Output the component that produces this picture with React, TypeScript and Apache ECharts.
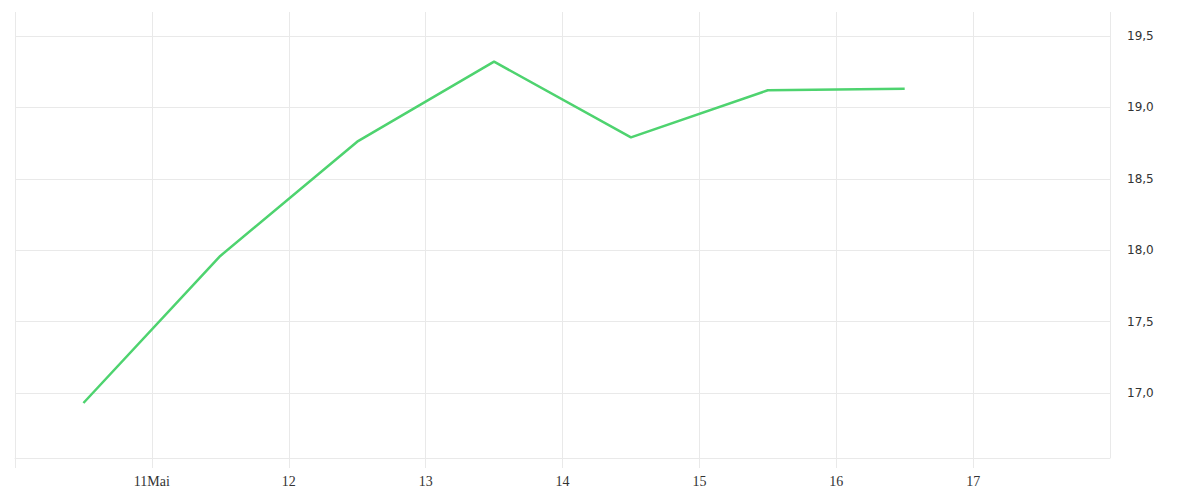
import { useEffect, useRef } from 'react'
import * as echarts from 'echarts'

// mid-day samples, 10-16 May
const times = [
  '2024-05-10 12:00', '2024-05-11 12:00', '2024-05-12 12:00', '2024-05-13 12:00',
  '2024-05-14 12:00', '2024-05-15 12:00', '2024-05-16 12:00',
]
const values = [16.93, 17.96, 18.76, 19.32, 18.79, 19.12, 19.13]

const yTicks = [17, 17.5, 18, 18.5, 19, 19.5]
const xLabels: Record<number, string> = {
  11: '11Mai', 12: '12', 13: '13', 14: '14', 15: '15', 16: '16', 17: '17',
}

const GRID = '#e9e9e9'

export default function App() {
  const ref = useRef<HTMLDivElement>(null)

  useEffect(() => {
    if (!ref.current) return
    const chart = echarts.init(ref.current, null, { renderer: 'svg' })

    chart.setOption({
      animation: false,
      grid: { left: 15, right: 90, top: 12, bottom: 42, containLabel: false },
      xAxis: {
        type: 'time',
        min: '2024-05-10 00:00',
        max: '2024-05-18 00:00',
        minInterval: 24 * 3600 * 1000,
        maxInterval: 24 * 3600 * 1000,
        axisLine: { lineStyle: { color: GRID, width: 1 } },
        axisTick: { show: true, inside: false, length: 10, lineStyle: { color: GRID, width: 1 } },
        splitLine: { show: true, lineStyle: { color: GRID, width: 1 } },
        axisLabel: {
          color: '#333',
          fontFamily: 'Liberation Serif',
          fontSize: 14,
          margin: 16,
          formatter: (v: number) => xLabels[new Date(v).getDate()] ?? '',
        },
      },
      yAxis: {
        type: 'value',
        position: 'right',
        min: 16.545,
        max: 19.668,
        axisLine: { show: false },
        axisTick: { show: false, customValues: yTicks },
        splitLine: { show: true, lineStyle: { color: GRID, width: 1 } },
        axisLabel: {
          customValues: yTicks,
          margin: 17,
          color: '#333',
          fontFamily: 'DejaVu Sans',
          fontSize: 12,
          padding: [0, 0, 4, 0],
          formatter: (v: number) => v.toFixed(1).replace('.', ','),
        },
      },
      series: [
        {
          type: 'line',
          data: times.map((t, i) => [t, values[i]]),
          symbol: 'none',
          lineStyle: { color: '#4ed36f', width: 2.5 },
        },
      ],
    })

    return () => chart.dispose()
  }, [])

  return (
    <div
      ref={ref}
      style={{ position: 'fixed', left: 0, top: 0, width: 1200, height: 500, background: '#fff' }}
    />
  )
}
